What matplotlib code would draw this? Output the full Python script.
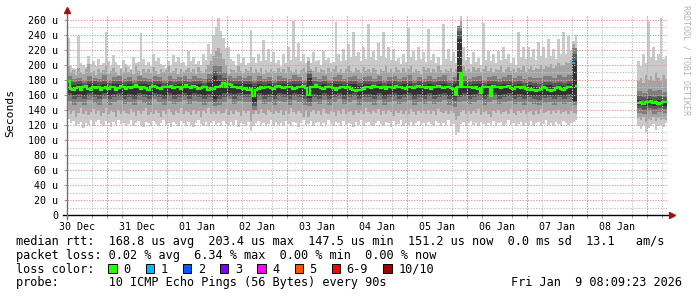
import numpy as np
import matplotlib
matplotlib.use("Agg")
import matplotlib.pyplot as plt
import matplotlib.dates as mdates
from matplotlib.ticker import MultipleLocator, FuncFormatter
from matplotlib.patches import Rectangle
from datetime import datetime, timedelta

nan = np.nan

end_time = datetime(2026, 1, 9, 8, 9, 23)
start_time = end_time - timedelta(days=10)

# outer ping ranks (us), one value per hour from start_time
p1 = [128, 122, 125, 119, 121, 124, 116, 123, 120, 126, 118, 124,
      127, 121, 119, 125, 122, 117, 124, 120, 126, 121, 123, 118,
      121, 126, 119, 123, 125, 120, 117, 124, 122, 119, 125, 121,
      118, 123, 126, 120, 122, 117, 124, 121, 119, 125, 122, 118,
      124, 120, 117, 123, 126, 121, 119, 124, 118, 122, 125, 120,
      122, 119, 125, 121, 118, 124, 120, 126, 117, 123, 121, 119,
      124, 112, 118, 122, 125, 120, 123, 119, 121, 126, 118, 124,
      120, 123, 118, 125, 121, 119, 124, 122, 117, 123, 126, 120,
      121, 125, 119, 122, 124, 118, 123, 120, 126, 121, 119, 124,
      122, 118, 125, 120, 123, 121, 117, 124, 120, 126, 119, 122,
      124, 120, 118, 123, 125, 121, 119, 124, 122, 117, 125, 120,
      121, 126, 119, 123, 120, 124, 118, 122, 125, 120, 123, 119,
      124, 121, 118, 125, 122, 119, 123, 120, 126, 118, 121, 106,
      110, 121, 124, 119, 122, 125, 120, 123, 118, 124, 121, 119,
      123, 120, 125, 118, 122, 124, 119, 121, 126, 120, 123, 118,
      121, 124, 119, 123, 120, 125, 118, 122, 124, 119, 121, 126,
      120, 123, 118, 124, 121, 119, 125, 122, 120, 123, 124, 126] + [nan] * 24 + \
     [118, 114, 120, 110, 116, 119, 121, 113, 118, 120, 117, 122]
p2 = [140, 134, 138, 131, 136, 142, 135, 139, 133, 137, 141, 134,
      138, 132, 136, 143, 135, 139, 137, 131, 140, 135, 138, 136,
      134, 141, 137, 132, 139, 135, 138, 142, 133, 137, 135, 140,
      136, 131, 139, 134, 141, 137, 133, 138, 136, 142, 134, 139,
      137, 133, 140, 135, 138, 131, 139, 136, 142, 134, 137, 135,
      139, 134, 136, 141, 133, 138, 135, 140, 137, 132, 139, 136,
      138, 125, 135, 139, 134, 141, 136, 133, 140, 137, 135, 138,
      136, 140, 133, 138, 135, 142, 137, 134, 139, 136, 131, 138,
      130, 137, 140, 135, 138, 133, 141, 136, 134, 139, 137, 132,
      138, 135, 141, 134, 137, 139, 133, 140, 136, 138, 135, 142,
      137, 134, 139, 136, 141, 133, 138, 135, 140, 137, 132, 139,
      136, 140, 134, 138, 135, 141, 137, 133, 139, 136, 138, 134,
      140, 135, 138, 133, 141, 137, 136, 139, 134, 138, 136, 126,
      132, 137, 140, 135, 139, 134, 138, 136, 141, 133, 137, 139,
      135, 130, 138, 136, 140, 134, 137, 139, 135, 141, 136, 133,
      138, 136, 140, 134, 137, 139, 133, 138, 135, 141, 136, 137,
      139, 134, 138, 136, 140, 135, 137, 139, 134, 138, 136, 135] + [nan] * 24 + \
     [129, 126, 130, 124, 128, 127, 131, 125, 129, 127, 128, 126]
p9 = [198, 190, 193, 187, 196, 191, 188, 194, 201, 190, 192, 186,
      195, 189, 193, 198, 188, 192, 196, 190, 187, 194, 191, 197,
      190, 193, 188, 199, 192, 187, 195, 191, 194, 189, 197, 192,
      188, 195, 190, 193, 199, 189, 192, 196, 188, 194, 191, 193,
      196, 190, 194, 188, 197, 192, 189, 195, 200, 205, 212, 218,
      222, 216, 208, 200, 188, 195, 193, 190, 198, 192, 189, 194,
      192, 197, 189, 194, 191, 196, 188, 193, 190, 195, 192, 189,
      196, 191, 194, 189, 197, 192, 190, 195, 188, 193, 196, 191,
      205, 194, 192, 197, 190, 195, 193, 188, 196, 191, 194, 199,
      191, 195, 189, 194, 198, 192, 190, 196, 193, 189, 197, 192,
      194, 190, 196, 193, 188, 195, 192, 198, 190, 194, 191, 197,
      193, 189, 196, 191, 194, 199, 190, 195, 192, 188, 197, 193,
      196, 191, 194, 190, 198, 193, 189, 195, 192, 196, 190, 194,
      193, 259, 198, 192, 195, 190, 197, 193, 196, 191, 194, 199,
      192, 196, 190, 195, 193, 198, 191, 194, 197, 192, 195, 190,
      196, 193, 198, 191, 195, 199, 193, 196, 194, 200, 195, 198,
      197, 201, 196, 199, 203, 198, 200, 204, 202, 206, 228, 222] + [nan] * 24 + \
     [178, 183, 176, 187, 180, 185, 179, 190, 182, 178, 186, 181]
p10 = [236, 198, 196, 194, 238, 203, 200, 197, 212, 201, 205, 199,
       208, 200, 203, 244, 205, 199, 213, 204, 200, 196, 207, 201,
       198, 195, 210, 202, 204, 243, 208, 200, 204, 198, 214, 205,
       209, 201, 200, 196, 205, 199, 213, 204, 210, 202, 204, 198,
       218, 205, 210, 201, 205, 200, 214, 206, 228, 215, 240, 250,
       262, 245, 236, 222, 224, 208, 205, 198, 214, 203, 209, 200,
       203, 246, 211, 202, 214, 205, 233, 207, 221, 204, 217, 203,
       207, 199, 214, 203, 224, 206, 258, 210, 229, 205, 214, 202,
       211, 203, 217, 205, 207, 200, 219, 206, 209, 202, 204, 257,
       214, 205, 221, 207, 228, 210, 244, 212, 217, 205, 224, 208,
       254, 210, 219, 206, 229, 212, 244, 209, 224, 207, 221, 205,
       209, 201, 214, 204, 249, 210, 219, 206, 224, 208, 217, 204,
       248, 207, 214, 203, 211, 200, 254, 208, 221, 205, 217, 203,
       208, 265, 224, 207, 211, 201, 217, 204, 209, 200, 256, 206,
       219, 205, 214, 202, 219, 206, 224, 208, 214, 203, 209, 200,
       244, 210, 224, 208, 224, 211, 221, 206, 231, 212, 224, 209,
       234, 212, 221, 208, 234, 214, 244, 215, 239, 220, 232, 240] + [nan] * 24 + \
      [205, 198, 214, 203, 259, 210, 224, 206, 214, 262, 208, 212]

# inner ping ranks (us), one value per 2 hours from start_time
p3 = [152, 147, 150, 146, 153, 149, 147, 154, 146, 151, 153, 148,
      150, 146, 153, 149, 147, 154, 150, 146, 152, 148, 151, 153,
      148, 152, 150, 146, 151, 145, 147, 151, 154, 148, 152, 150,
      151, 140, 153, 148, 150, 146, 152, 150, 147, 153, 150, 146,
      145, 151, 148, 153, 146, 150, 154, 148, 151, 153, 147, 150,
      151, 147, 153, 146, 150, 152, 148, 151, 153, 146, 150, 148,
      152, 148, 150, 153, 146, 144, 150, 152, 148, 151, 153, 147,
      150, 153, 148, 151, 152, 148, 150, 146, 151, 148, 146, 149,
      151, 147, 150, 148, 151, 146] + [nan] * 12 + [136, 134, 138, 135, 137, 136]
p4 = [159, 155, 157, 154, 159, 157, 155, 159, 154, 157, 159, 155,
      157, 154, 159, 157, 155, 159, 157, 154, 159, 155, 157, 159,
      155, 159, 157, 154, 157, 150, 155, 157, 159, 155, 159, 157,
      157, 145, 159, 155, 157, 154, 159, 157, 155, 159, 157, 154,
      150, 157, 155, 159, 154, 157, 159, 155, 157, 159, 154, 157,
      157, 155, 159, 154, 157, 159, 155, 157, 159, 154, 157, 155,
      159, 155, 157, 159, 154, 152, 157, 159, 155, 157, 159, 154,
      157, 159, 155, 157, 159, 155, 157, 154, 157, 155, 153, 156,
      157, 154, 157, 155, 157, 150] + [nan] * 12 + [142, 140, 143, 141, 142, 141]
p5 = [163, 160, 161, 159, 162, 161, 160, 163, 159, 161, 162, 160,
      161, 159, 162, 161, 160, 162, 161, 159, 162, 160, 161, 162,
      160, 162, 161, 159, 161, 155, 158, 162, 163, 161, 162, 161,
      161, 150, 162, 160, 161, 159, 162, 161, 160, 162, 161, 159,
      156, 161, 160, 162, 159, 161, 162, 160, 161, 162, 159, 161,
      161, 160, 162, 159, 161, 162, 160, 161, 162, 159, 161, 160,
      162, 160, 161, 162, 159, 157, 160, 162, 160, 161, 162, 159,
      161, 162, 160, 161, 162, 160, 161, 159, 160, 159, 158, 160,
      160, 159, 160, 159, 161, 152] + [nan] * 12 + [146, 145, 147, 145, 146, 145]
p6 = [176, 173, 174, 172, 175, 174, 173, 175, 172, 174, 175, 173,
      174, 172, 175, 174, 173, 175, 174, 172, 175, 173, 174, 175,
      173, 175, 174, 172, 176, 185, 178, 176, 175, 174, 175, 174,
      174, 172, 175, 173, 174, 172, 175, 174, 173, 175, 174, 172,
      183, 174, 173, 175, 172, 174, 175, 173, 174, 175, 172, 174,
      174, 173, 175, 172, 174, 175, 173, 174, 175, 172, 174, 173,
      175, 173, 174, 175, 172, 174, 235, 175, 173, 174, 175, 172,
      174, 175, 173, 174, 175, 173, 174, 172, 173, 172, 171, 173,
      173, 172, 173, 172, 174, 205] + [nan] * 12 + [153, 152, 154, 152, 153, 152]
p7 = [179, 177, 178, 176, 179, 178, 177, 179, 176, 178, 179, 177,
      178, 176, 179, 178, 177, 179, 178, 176, 179, 177, 178, 179,
      177, 179, 178, 176, 181, 192, 186, 183, 180, 178, 179, 178,
      178, 176, 179, 177, 178, 176, 179, 178, 177, 179, 178, 176,
      188, 178, 177, 179, 176, 178, 179, 177, 178, 179, 176, 178,
      178, 177, 179, 176, 178, 179, 177, 178, 179, 176, 178, 177,
      179, 177, 178, 179, 176, 178, 245, 179, 177, 178, 179, 176,
      178, 179, 177, 178, 179, 177, 178, 176, 177, 176, 175, 177,
      177, 176, 177, 176, 178, 215] + [nan] * 12 + [158, 157, 159, 157, 158, 157]
p8 = [185, 181, 183, 180, 185, 182, 181, 186, 180, 184, 185, 181,
      184, 180, 185, 182, 181, 185, 184, 180, 185, 181, 184, 185,
      181, 185, 183, 181, 188, 200, 198, 190, 185, 182, 185, 183,
      185, 180, 185, 181, 184, 180, 185, 183, 181, 186, 184, 180,
      192, 184, 181, 185, 180, 184, 186, 181, 184, 185, 181, 184,
      185, 181, 185, 180, 184, 185, 181, 184, 186, 180, 184, 181,
      185, 181, 184, 186, 180, 184, 252, 185, 181, 184, 185, 180,
      184, 185, 181, 184, 186, 183, 185, 181, 184, 183, 183, 185,
      185, 183, 186, 184, 187, 222] + [nan] * 12 + [165, 163, 168, 165, 166, 164]

# median rtt (us), one value per hour
median = [178, 168, 166, 169, 171, 167, 170, 172, 168, 166, 170, 169,
          171, 167, 169, 170, 168, 171, 170, 167, 169, 172, 170, 168,
          171, 169, 170, 173, 171, 168, 170, 169, 167, 170, 172, 171,
          169, 168, 170, 171, 170, 172, 169, 171, 170, 168, 171, 173,
          170, 169, 172, 170, 168, 169, 171, 170, 167, 169, 168, 170,
          171, 172, 176, 170, 174, 173, 171, 170, 169, 170, 168, 169,
          167, 168, 158, 167, 168, 170, 169, 171, 170, 169, 168, 170,
          172, 171, 169, 170, 171, 170, 168, 169, 171, 170, 172, 169,
          160, 170, 171, 173, 170, 169, 168, 170, 171, 170, 169, 167,
          169, 170, 171, 169, 170, 168, 166, 165, 167, 166, 168, 170,
          171, 169, 172, 170, 171, 169, 170, 168, 171, 170, 169, 172,
          171, 170, 169, 168, 170, 171, 169, 170, 172, 170, 171, 169,
          170, 168, 170, 171, 172, 170, 169, 171, 170, 169, 168, 160,
          171, 189, 170, 171, 170, 171, 169, 170, 168, 163, 170, 171,
          170, 158, 172, 171, 170, 169, 171, 170, 172, 169, 168, 170,
          171, 169, 170, 168, 167, 168, 166, 165, 167, 168, 170, 169,
          166, 165, 167, 169, 170, 168, 167, 169, 170, 171, 203, 172] + [nan] * 24 + \
         [149, 150, 148, 151, 150, 152, 149, 150, 148, 149, 150, 151]

# hours with packet loss and how many pings were lost
loss_hour = [202]
loss_count = [1]

loss_labels = ["0", "1", "2", "3", "4", "5", "6-9", "10/10"]
loss_colors = ["#26ff00", "#00b8ff", "#0059ff", "#7e00ff", "#ff00ff", "#ff5500", "#ff0000", "#a10000"]
smoke_grays = ["#cacaca", "#a4a4a4", "#7e7e7e", "#585858", "#323232"]

line_rtt = "median rtt:  168.8 us avg  203.4 us max  147.5 us min  151.2 us now  0.0 ms sd  13.1   am/s"
line_loss = "packet loss: 0.02 % avg  6.34 % max  0.00 % min  0.00 % now"
line_probe = "probe:       10 ICMP Echo Pings (56 Bytes) every 90s"
stamp = "Fri Jan  9 08:09:23 2026"

W, H = 697, 297
mono = "DejaVu Sans Mono"
fig = plt.figure(figsize=(W / 100, H / 100), dpi=100)
fig.patch.set_facecolor("white")
ax = fig.add_axes([67 / W, 82 / H, 600 / W, 200 / H])

# smoke: outer bands hourly, inner bands every 2 hours
t1 = mdates.date2num([start_time + timedelta(hours=i) for i in range(len(median) + 1)])
t2 = mdates.date2num([start_time + timedelta(hours=2 * i) for i in range(len(p3))])
bands = [(t1[:-1], p1, p10, 1 / 24), (t1[:-1], p2, p9, 1 / 24),
         (t2, p3, p8, 2 / 24), (t2, p4, p7, 2 / 24), (t2, p5, p6, 2 / 24)]
for k, (t, lo, hi, w) in enumerate(bands):
    lo = np.array(lo, float)
    hi = np.array(hi, float)
    ax.bar(t, hi - lo, bottom=lo, width=w, align="edge", color=smoke_grays[k],
           linewidth=0, antialiased=False, zorder=1 + k * 0.1)

# median line, coloured by loss
green = np.array(median, float)
green[loss_hour] = nan
green = np.append(green, green[-1])
ax.step(t1, green, where="post", color=loss_colors[0], lw=1.6, zorder=3,
        solid_joinstyle="miter", solid_capstyle="butt")
for h, n in zip(loss_hour, loss_count):
    ax.plot([t1[h], t1[h + 1]], [median[h], median[h]], color=loss_colors[n], lw=1.6,
            zorder=3.1, solid_capstyle="butt")

ax.set_xlim(mdates.date2num(start_time), mdates.date2num(end_time))
ax.set_ylim(0, 200 / 0.75)

ax.xaxis.set_major_locator(mdates.HourLocator(byhour=[12]))
ax.xaxis.set_major_formatter(mdates.DateFormatter("%d %b"))
ax.xaxis.set_minor_locator(mdates.HourLocator(byhour=[0, 6, 12, 18]))
ax.yaxis.set_major_locator(MultipleLocator(20))
ax.yaxis.set_minor_locator(MultipleLocator(10))
ax.yaxis.set_major_formatter(FuncFormatter(lambda v, p: "0" if v == 0 else f"{v:.0f} u"))

ax.set_axisbelow(False)
dots = (0, (1.3, 1.3))
ax.grid(which="minor", color="#c4c4c4", lw=0.75, ls=dots)
ax.grid(which="major", axis="y", color="#e49a9a", lw=0.75, ls=dots)
ax.grid(which="major", axis="x", visible=False)
for d in mdates.DayLocator().tick_values(start_time, end_time):
    ax.axvline(d, color="#e49a9a", lw=0.75, ls=dots, zorder=2.6)

for s in ["top", "right", "left", "bottom"]:
    ax.spines[s].set_visible(False)
ax.plot([-0.007, 1.006], [0, 0], transform=ax.transAxes, color="black", lw=1, clip_on=False, zorder=4)
ax.plot([0, 0], [-0.02, 1.02], transform=ax.transAxes, color="#707070", lw=1, clip_on=False, zorder=4)
ax.plot([1.008], [0], marker=">", ms=4.5, color="#a01010", transform=ax.transAxes, clip_on=False, zorder=5)
ax.plot([0], [1.025], marker="^", ms=4.5, color="#a01010", transform=ax.transAxes, clip_on=False, zorder=5)

ax.tick_params(axis="x", which="major", length=0, pad=4.8, labelsize=7.2, labelfontfamily=mono)
ax.tick_params(axis="x", which="minor", length=2, width=0.7, color="#999999", direction="out")
ax.tick_params(axis="y", which="major", length=2, width=0.7, color="#999999", pad=4.2,
               labelsize=7.2, labelfontfamily=mono)
ax.tick_params(axis="y", which="minor", length=0)

fig.text(10 / W, 1 - 113 / H, "Seconds", rotation=90, ha="center", va="center",
         family=mono, fontsize=8.2)
fig.text(686 / W, 1 - 5 / H, "RRDTOOL / TOBI OETIKER", rotation=270, ha="center", va="top",
         family=mono, fontsize=6.0, color="#b4b4b4")

fs = 8.54
fig.text(16 / W, 1 - 245.3 / H, line_rtt, family=mono, fontsize=fs, va="baseline")
fig.text(16 / W, 1 - 259.0 / H, line_loss, family=mono, fontsize=fs, va="baseline")
fig.text(16 / W, 1 - 272.6 / H, "loss color:", family=mono, fontsize=fs, va="baseline")
fig.text(16 / W, 1 - 286.2 / H, line_probe, family=mono, fontsize=fs, va="baseline")
fig.text(682 / W, 1 - 286.2 / H, stamp, family=mono, fontsize=fs, va="baseline", ha="right")

x = 108.3
for lab, col in zip(loss_labels, loss_colors):
    fig.add_artist(Rectangle((x / W, 1 - 272.7 / H), 8.3 / W, 8.4 / H, transform=fig.transFigure,
                             facecolor=col, edgecolor="black", lw=0.7))
    fig.text((x + 15) / W, 1 - 272.6 / H, lab, family=mono, fontsize=fs, va="baseline")
    x += 15 + 7.14 * len(lab) + 15.1

fig.savefig("out.png", dpi=100, facecolor="white")
